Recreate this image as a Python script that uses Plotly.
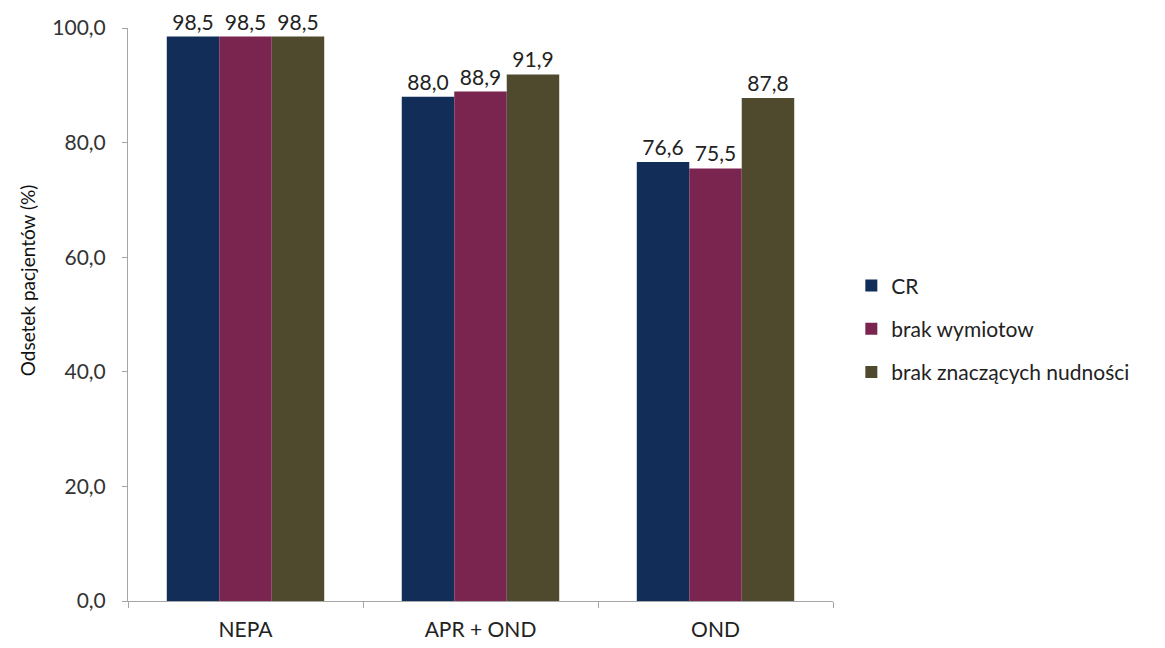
import plotly.graph_objects as go

categories = ["NEPA", "APR + OND", "OND"]
series_names = ["CR", "brak wymiotow", "brak znaczących nudności"]
cr = [98.5, 88.0, 76.6]
brak_wymiotow = [98.5, 88.9, 75.5]
brak_nudnosci = [98.5, 91.9, 87.8]
colors = ["#112d58", "#7a2550", "#4f4a2d"]
y_ticks = [0, 20, 40, 60, 80, 100]
y_title = "Odsetek pacjentów (%)"

fig = go.Figure()
for i, (name, vals) in enumerate(zip(series_names, [cr, brak_wymiotow, brak_nudnosci])):
    fig.add_trace(go.Bar(
        x=categories, y=vals, name=name, legendgroup=name,
        marker=dict(color=colors[i], line=dict(width=0)),
        texttemplate="%{y:.1f}", textposition="outside",
        textfont=dict(size=21, color="#222222"), cliponaxis=False,
    ))

fig.update_layout(
    width=1165, height=648,
    margin=dict(l=128, r=332, t=28, b=47, autoexpand=False),
    paper_bgcolor="white", plot_bgcolor="white",
    font=dict(family="Lato, Open Sans, sans-serif", size=21, color="#333333"),
    separators=",.",
    barmode="group", bargap=0.33, bargroupgap=0,
    showlegend=True,
    legend=dict(x=1.026, y=0.475, xanchor="left", yanchor="middle",
                font=dict(size=21, color="#222222"), tracegroupgap=13,
                traceorder="grouped"),
    xaxis=dict(showline=True, linecolor="#a6a6a6", linewidth=1, automargin=False,
               ticks="outside", tickson="boundaries", ticklen=6, tickcolor="#a6a6a6",
               ticklabelstandoff=10,
               tickfont=dict(size=21, color="#222222"), showgrid=False),
    yaxis=dict(range=[0, 100], tickvals=y_ticks, tickformat=".1f", automargin=False,
               showline=True, linecolor="#a6a6a6", linewidth=1,
               ticks="outside", ticklen=5, tickcolor="#a6a6a6",
               ticklabelstandoff=12,
               tickfont=dict(size=21, color="#333333"), showgrid=False,
               zeroline=False),
    annotations=[dict(text=y_title, textangle=-90, showarrow=False,
                      xref="paper", yref="paper", x=-0.143, y=0.56,
                      xanchor="center", yanchor="middle",
                      font=dict(size=19, color="#111111"))],
)

fig.write_html("out.html")
